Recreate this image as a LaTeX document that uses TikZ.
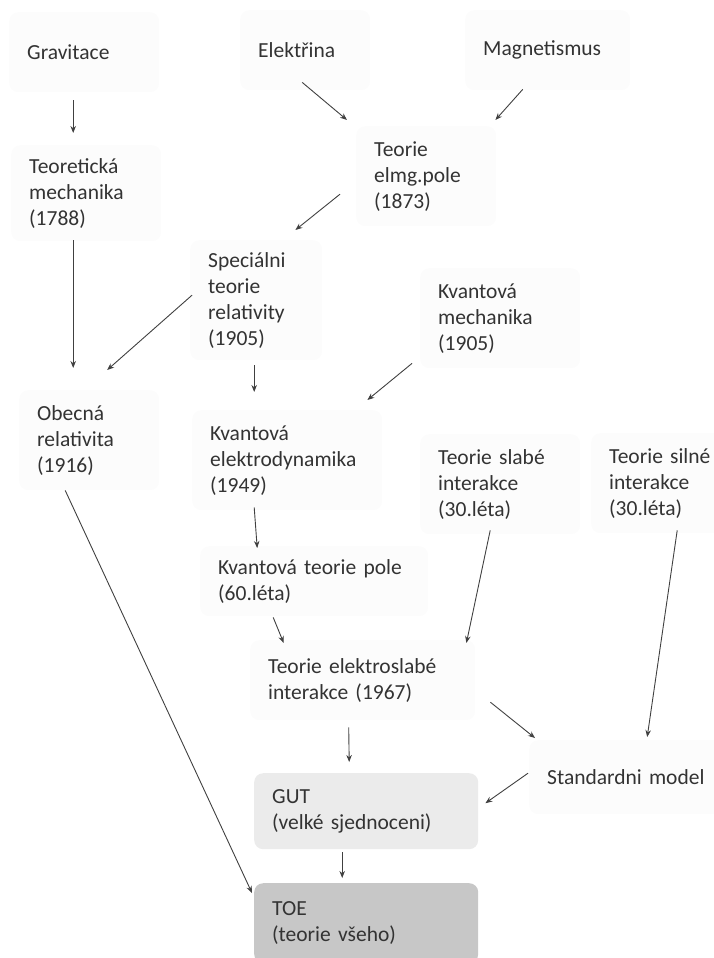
\documentclass[tikz,border=0pt]{standalone}
\usepackage{fontspec}
\setmainfont{Carlito}
\usetikzlibrary{arrows.meta,positioning,calc}

\begin{document}
\begin{tikzpicture}[
	x=1pt, y=-1pt,
	every node/.style={font=\fontsize{21.5}{26}\selectfont, text=black!80},
	box/.style={fill=black!1, rounded corners=9pt, align=left, anchor=north west, inner xsep=18pt, inner ysep=0pt},
	gutbox/.style={box, fill=black!8},
	toebox/.style={box, fill=black!22},
	arrow/.style={-{Stealth[length=7pt,width=5.5pt]}, line width=0.9pt, draw=black!75}
	]
	
	\useasboundingbox (0,0) rectangle (713,958);
	
	% top row
	\node[box, text width=114pt, minimum height=80pt] (Grav) at (9,12) {Gravitace};
	\node[box, text width=94pt, minimum height=80pt] (Elek) at (240,10) {Elektřina};
	\node[box, text width=129pt, minimum height=80pt] (Magn) at (465,10) {Magnetismus};
	
	\node[box, text width=114pt, minimum height=96pt] (Teor) at (11,145) {Teoretická\\ mechanika\\ (1788)};
	\node[box, text width=104pt, minimum height=100pt] (Elmg) at (356,126) {Teorie\\ elmg.pole\\ (1873)};
	
	\node[box, text width=96pt, minimum height=120pt] (Spec) at (190,240) {Speciálni\\ teorie\\ relativity\\ (1905)};
	\node[box, text width=124pt, minimum height=100pt] (KvMech) at (420,268) {Kvantová\\ mechanika\\ (1905)};
	
	\node[box, text width=104pt, minimum height=100pt] (Obec) at (19,390) {Obecná\\ relativita\\ (1916)};
	\node[box, text width=154pt, minimum height=100pt] (Ked) at (192,410) {Kvantová\\ elektrodynamika\\ (1949)};
	\node[box, text width=124pt, minimum height=100pt] (Slab) at (420,434) {Teorie slabé\\ interakce\\ (30.léta)};
	\node[box, text width=110pt, minimum height=100pt] (Siln) at (591,433) {Teorie silné\\ interakce\\ (30.léta)};
	
	\node[box, text width=192pt, minimum height=70pt] (Ktp) at (200,546) {Kvantová teorie pole\\ (60.léta)};
	\node[box, text width=189pt, minimum height=80pt] (Elsl) at (250,640) {Teorie elektroslabé\\ interakce (1967)};
	\node[box, text width=170pt, minimum height=74pt] (Std) at (529,740) {Standardni model};
	
	\node[gutbox, text width=188pt, minimum height=76pt] (Gut) at (254,773) {GUT\\ (velké sjednoceni)};
	\node[toebox, text width=188pt, minimum height=80pt] (Toe) at (254,883) {TOE\\ (teorie všeho)};
	
	% connectors
	\draw[arrow] ($(Grav.south)+(-11,8)$) -- ($(Teor.north)+(-13,-12)$);
	\draw[arrow] ($(Elek.south)+(-3,-8)$) -- ($(Elmg.north west)+(-9,-6)$);
	\draw[arrow] ($(Magn.south)+(-25,-1)$) -- ($(Elmg.north east)+(-1,-6)$);
	\draw[arrow] ($(Elmg.west)+(-16,18)$) -- ($(Spec.north east)+(-27,-10)$);
	\draw[arrow] ($(Teor.south)+(-13,-1)$) -- ($(Obec.north)+(-16,-22)$);
	\draw[arrow] ($(Spec.west)+(2,-5)$) -- ($(Obec.north)+(18,-20)$);
	\draw[arrow] ($(Spec.south)+(-2,5)$) -- ($(Ked.north)+(-33,-18)$);
	\draw[arrow] ($(KvMech.south west)+(-8,-5)$) -- ($(Ked.north east)+(-15,-10)$);
	\draw[arrow] ($(Ked.south)+(-33,-3)$) -- ($(Ktp.north)+(-57,2)$);
	\draw[arrow] ($(Ktp.south)+(-41,1)$) -- ($(Elsl.north)+(-79,3)$);
	\draw[arrow] ($(Slab.south)+(-10,-4)$) -- ($(Elsl.north east)+(-9,3)$);
	\draw[arrow] ($(Siln.south)+(13,-3)$) -- ($(Std.north)+(15,-3)$);
	\draw[arrow] ($(Elsl.east)+(15,22)$) -- ($(Std.north west)+(6,-2)$);
	\draw[arrow] ($(Elsl.south)+(-14,7)$) -- ($(Gut.north)+(-17,-11)$);
	\draw[arrow] ($(Std.west)+(-1,-4)$) -- ($(Gut.east)+(7,-8)$);
	\draw[arrow] ($(Gut.south)+(-24,3)$) -- ($(Toe.north)+(-24,-5)$);
	\draw[arrow] ($(Obec.south)+(-24,0)$) -- ($(Toe.north west)+(-2,10)$);
	
\end{tikzpicture}
\end{document}
